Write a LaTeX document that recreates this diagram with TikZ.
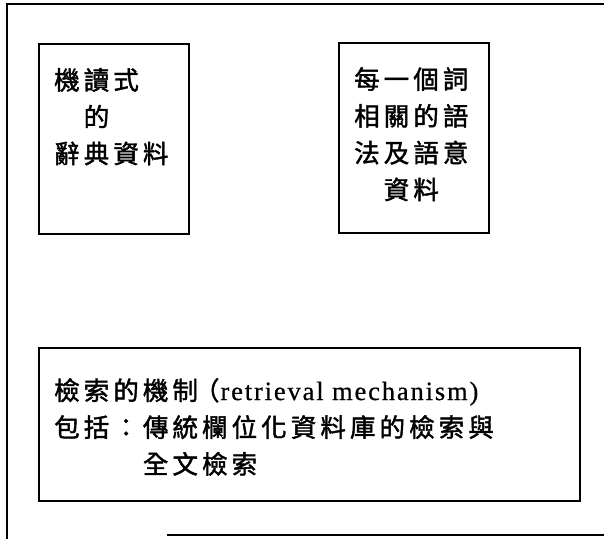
\documentclass[tikz,border=0pt]{standalone}
\usepackage{fontspec}
\setmainfont{Liberation Serif}
\newfontfamily\cjk[LetterSpace=16,FakeBold=1.6]{Noto Sans CJK TC}
\newfontfamily\latin[LetterSpace=7,FakeBold=0.6]{Liberation Serif}
\tikzset{
  frameline/.style={line width=1.6pt, line cap=rect},
  boxnode/.style={draw, line width=1.6pt, anchor=north west, inner sep=0pt},
  txt/.style={anchor=north west, inner sep=0pt, align=left, font=\cjk\fontsize{25.5}{36.8}\selectfont}
}
\begin{document}
\begin{tikzpicture}[x=1pt,y=-1pt]
\useasboundingbox (0,0) rectangle (604,538);
% outer frame (open on the right)
\coordinate (ftl) at (7,4);
\coordinate (ftr) at (604,4);
\coordinate (fbl) at (7,538);
\coordinate (fbs) at (168,535);
\coordinate (fbr) at (604,535);
\draw[frameline] (ftr) -- (ftl) -- (fbl);
\draw[frameline] (fbs) -- (fbr);
% boxes
\node[boxnode, minimum width=150pt, minimum height=190pt] (b1) at (38,43) {};
\node[boxnode, minimum width=150pt, minimum height=190pt] (b2) at (338,42) {};
\node[boxnode, minimum width=541pt, minimum height=153pt] (b3) at (38,347) {};
% texts
\node[txt] (t1) at (54,68) {機讀式\\　的\\辭典資料};
\node[txt] (t2) at (354,67) {每一個詞\\相關的語\\法及語意\\　資料};
\node[txt] (t3) at (54,378) {檢索的機制\hspace{-4pt}（\hspace{1pt}{\latin\fontsize{26.5}{36.8}\selectfont retrieval mechanism)}\\包括：傳統欄位化資料庫的檢索與\\　　　全文檢索};
\end{tikzpicture}
\end{document}
